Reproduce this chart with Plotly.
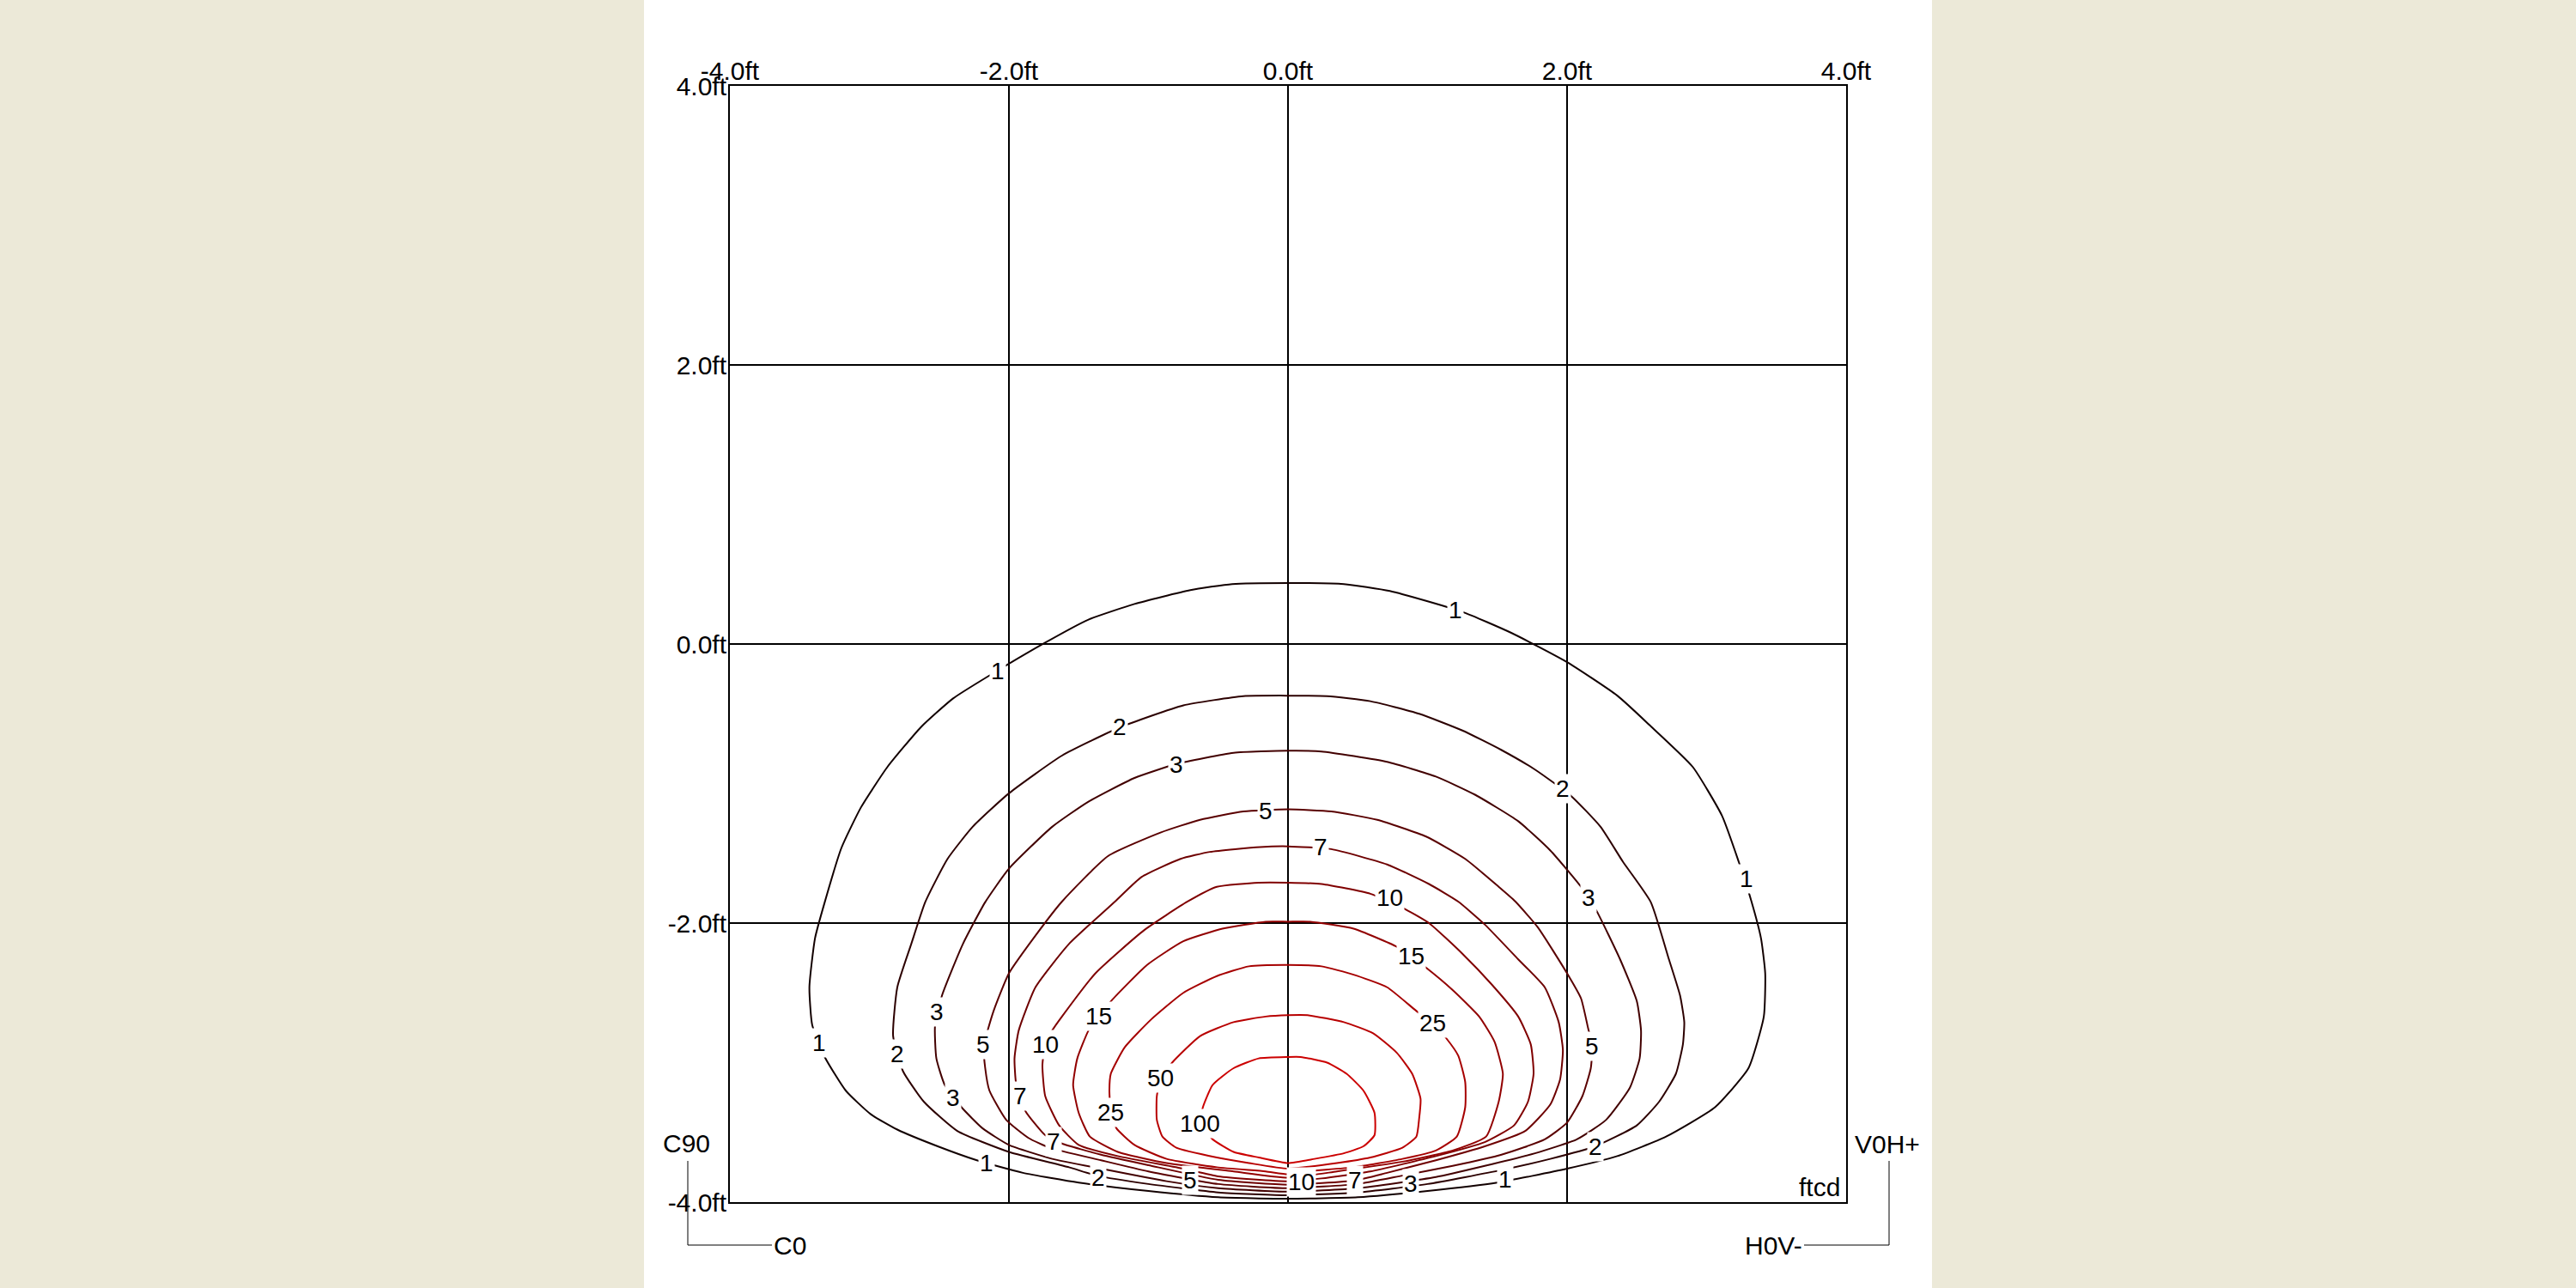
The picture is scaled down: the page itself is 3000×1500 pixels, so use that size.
import plotly.graph_objects as go

# ---------------- data (feet) ----------------
LEVELS = [1, 2, 3, 5, 7, 10, 15, 25, 50, 100]
TICK_VALS = [-4, -2, 0, 2, 4]
TICK_TEXT = ["-4.0ft", "-2.0ft", "0.0ft", "2.0ft", "4.0ft"]

C1_X = [0, -0.5, -1.0, -1.5, -1.9, -2.23, -2.51, -2.80, -2.99, -3.17, -3.32, -3.41, -3.43, -3.39, -3.32,
        -3.20, -3.06, -2.87, -2.63, -2.40, -2.14, -1.74, -1.43, -1.10, -0.70, -0.40, 0, 0.40, 0.73, 1.25,
        1.60, 2.00, 2.36, 2.59, 2.90, 3.11, 3.23, 3.32, 3.39, 3.42, 3.41, 3.30, 3.06, 2.71, 2.36, 2.00,
        1.50, 1.00, 0.50, 0]
C1_Y = [-3.975, -3.965, -3.92, -3.86, -3.79, -3.70, -3.60, -3.48, -3.37, -3.20, -2.96, -2.73, -2.46, -2.11,
        -1.85, -1.46, -1.17, -0.88, -0.595, -0.39, -0.226, 0.01, 0.175, 0.287, 0.386, 0.43, 0.437, 0.43,
        0.38, 0.23, 0.08, -0.13, -0.37, -0.58, -0.88, -1.23, -1.56, -1.84, -2.11, -2.36, -2.67, -3.04,
        -3.32, -3.53, -3.67, -3.76, -3.86, -3.92, -3.965, -3.975]

C2_X = [0, -0.5, -1.0, -1.37, -1.57, -2.0, -2.37, -2.61, -2.76, -2.83, -2.80, -2.70, -2.60, -2.44, -2.26,
        -2.0, -1.62, -1.21, -0.75, -0.32, 0, 0.28, 0.59, 0.94, 1.25, 1.53, 1.77, 2.03, 2.24, 2.40, 2.60,
        2.73, 2.81, 2.84, 2.83, 2.78, 2.66, 2.50, 2.20, 1.88, 1.53, 1.0, 0.5, 0]
C2_Y = [-3.95, -3.93, -3.87, -3.81, -3.75, -3.64, -3.49, -3.28, -3.06, -2.81, -2.46, -2.15, -1.85, -1.54,
        -1.31, -1.07, -0.80, -0.60, -0.44, -0.374, -0.37, -0.374, -0.41, -0.50, -0.62, -0.76, -0.90,
        -1.09, -1.31, -1.56, -1.85, -2.26, -2.52, -2.71, -2.87, -3.08, -3.28, -3.45, -3.60, -3.69, -3.77,
        -3.87, -3.93, -3.95]

C3_X = [0, -0.5, -0.87, -1.34, -1.69, -2.0, -2.19, -2.34, -2.46, -2.52, -2.53, -2.48, -2.33, -2.17, -2.0,
        -1.69, -1.43, -1.10, -0.80, -0.39, 0, 0.24, 0.71, 1.06, 1.34, 1.65, 1.88, 2.10, 2.21, 2.38, 2.50,
        2.53, 2.52, 2.45, 2.28, 2.07, 1.77, 1.41, 1.06, 0.5, 0]
C3_Y = [-3.925, -3.90, -3.85, -3.76, -3.69, -3.59, -3.47, -3.32, -3.16, -2.97, -2.74, -2.52, -2.15, -1.85,
        -1.61, -1.31, -1.13, -0.96, -0.86, -0.78, -0.765, -0.77, -0.845, -0.95, -1.08, -1.27, -1.48, -1.74,
        -1.91, -2.26, -2.56, -2.77, -2.97, -3.18, -3.41, -3.55, -3.65, -3.74, -3.82, -3.90, -3.925]

C5_X = [0, -0.5, -1.0, -1.34, -1.71, -1.86, -2.02, -2.14, -2.17, -2.18, -2.11, -2.0, -1.81, -1.62, -1.29,
        -0.91, -0.63, -0.32, 0, 0.31, 0.64, 0.99, 1.27, 1.51, 1.63, 1.79, 2.0, 2.10, 2.15, 2.18, 2.17, 2.11,
        2.0, 1.84, 1.53, 1.18, 0.82, 0.5, 0]
C5_Y = [-3.90, -3.87, -3.78, -3.70, -3.61, -3.54, -3.41, -3.20, -3.04, -2.88, -2.63, -2.36, -2.09, -1.846,
        -1.52, -1.35, -1.26, -1.20, -1.185, -1.20, -1.26, -1.38, -1.54, -1.74, -1.846, -2.03, -2.36, -2.54,
        -2.75, -2.88, -3.04, -3.24, -3.43, -3.55, -3.66, -3.74, -3.81, -3.87, -3.90]

C7_X = [0, -0.5, -1.0, -1.34, -1.62, -1.74, -1.88, -1.92, -1.95, -1.96, -1.93, -1.81, -1.57, -1.24, -1.05,
        -0.77, -0.56, -0.2, 0, 0.31, 0.71, 1.01, 1.22, 1.41, 1.65, 1.84, 1.94, 1.97, 1.95, 1.88, 1.70, 1.41,
        1.06, 0.71, 0.48, 0]
C7_Y = [-3.875, -3.84, -3.735, -3.66, -3.58, -3.52, -3.35, -3.24, -3.14, -2.97, -2.77, -2.46, -2.15, -1.846,
        -1.67, -1.54, -1.49, -1.455, -1.45, -1.47, -1.58, -1.72, -1.846, -2.01, -2.26, -2.46, -2.71, -2.91,
        -3.12, -3.30, -3.49, -3.60, -3.70, -3.79, -3.845, -3.875]

C10_X = [0, -0.5, -0.75, -1.22, -1.50, -1.64, -1.74, -1.76, -1.74, -1.69, -1.62, -1.38, -1.03, -0.72, -0.51,
         -0.21, 0, 0.24, 0.59, 0.82, 1.01, 1.25, 1.46, 1.65, 1.74, 1.76, 1.72, 1.62, 1.41, 1.06, 0.59, 0.24, 0]
C10_Y = [-3.85, -3.815, -3.76, -3.67, -3.59, -3.45, -3.24, -3.02, -2.87, -2.77, -2.67, -2.36, -2.05, -1.846,
         -1.74, -1.71, -1.71, -1.72, -1.79, -1.89, -2.0, -2.22, -2.44, -2.67, -2.87, -3.08, -3.28, -3.45,
         -3.57, -3.67, -3.78, -3.83, -3.85]

C15_X = [0, -0.39, -0.87, -1.22, -1.42, -1.50, -1.54, -1.51, -1.43, -1.36, -1.26, -1.01, -0.75, -0.47, -0.16,
         0, 0.16, 0.47, 0.78, 0.88, 0.99, 1.18, 1.37, 1.48, 1.54, 1.51, 1.42, 1.18, 0.82, 0.35, 0]
C15_Y = [-3.825, -3.78, -3.72, -3.64, -3.53, -3.36, -3.16, -2.97, -2.77, -2.67, -2.55, -2.30, -2.13, -2.04,
         -1.99, -1.99, -1.99, -2.04, -2.17, -2.24, -2.32, -2.48, -2.67, -2.85, -3.08, -3.28, -3.53, -3.63,
         -3.71, -3.78, -3.825]

C25_X = [0, -0.16, -0.51, -0.87, -1.10, -1.23, -1.27, -1.28, -1.27, -1.17, -0.98, -0.75, -0.51, -0.28, 0,
         0.24, 0.47, 0.71, 0.92, 1.04, 1.13, 1.22, 1.27, 1.27, 1.21, 1.06, 0.82, 0.47, 0.12, 0]
C25_Y = [-3.80, -3.78, -3.75, -3.69, -3.59, -3.47, -3.35, -3.20, -3.08, -2.89, -2.69, -2.50, -2.38, -2.31,
         -2.30, -2.31, -2.37, -2.46, -2.63, -2.72, -2.82, -2.95, -3.14, -3.32, -3.53, -3.63, -3.69, -3.75,
         -3.78, -3.80]

C50_X = [0, -0.28, -0.51, -0.80, -0.90, -0.94, -0.94, -0.91, -0.83, -0.63, -0.39, -0.16, 0, 0.14, 0.40,
         0.61, 0.78, 0.89, 0.95, 0.94, 0.92, 0.82, 0.59, 0.35, 0]
C50_Y = [-3.76, -3.72, -3.68, -3.61, -3.53, -3.41, -3.24, -3.11, -3.00, -2.81, -2.71, -2.67, -2.66, -2.66,
         -2.71, -2.79, -2.93, -3.08, -3.26, -3.40, -3.53, -3.61, -3.68, -3.72, -3.76]

C100_X = [0, -0.21, -0.39, -0.54, -0.63, -0.61, -0.54, -0.39, -0.21, 0, 0.09, 0.28, 0.42, 0.54, 0.62, 0.62,
          0.54, 0.40, 0.19, 0]
C100_Y = [-3.72, -3.68, -3.64, -3.55, -3.44, -3.32, -3.16, -3.04, -2.97, -2.96, -2.96, -3.00, -3.08, -3.20,
          -3.36, -3.52, -3.60, -3.65, -3.69, -3.72]

# contour label positions (feet)
L1_X = [-2.08, 1.20, 3.285, -3.36, -2.16, 1.554]
L1_Y = [-0.195, 0.246, -1.68, -2.86, -3.72, -3.836]
L2_X = [-1.207, 1.967, -2.80, -1.36, 2.20]
L2_Y = [-0.595, -1.036, -2.94, -3.825, -3.60]
L3_X = [-0.80, 2.155, -2.514, -2.401, 0.883]
L3_Y = [-0.862, -1.816, -2.636, -3.251, -3.867]
L5_X = [-0.159, -2.185, 2.178, -0.70]
L5_Y = [-1.194, -2.872, -2.882, -3.846]
L7_X = [0.236, -1.921, -1.678, 0.483]
L7_Y = [-1.457, -3.241, -3.569, -3.846]
L10_X = [0.73, -1.737, 0.094]
L10_Y = [-1.816, -2.872, -3.856]
L15_X = [-1.36, 0.883]
L15_Y = [-2.667, -2.236]
L25_X = [-1.271, 1.036]
L25_Y = [-3.354, -2.718]
L50_X = [-0.913]
L50_Y = [-3.108]
L100_X = [-0.63]
L100_Y = [-3.436]

CONTOURS_X = [C1_X, C2_X, C3_X, C5_X, C7_X, C10_X, C15_X, C25_X, C50_X, C100_X]
CONTOURS_Y = [C1_Y, C2_Y, C3_Y, C5_Y, C7_Y, C10_Y, C15_Y, C25_Y, C50_Y, C100_Y]
LABELS_X = [L1_X, L2_X, L3_X, L5_X, L7_X, L10_X, L15_X, L25_X, L50_X, L100_X]
LABELS_Y = [L1_Y, L2_Y, L3_Y, L5_Y, L7_Y, L10_Y, L15_Y, L25_Y, L50_Y, L100_Y]

# ---------------- styling ----------------
LINE_COLORS = ["#120000", "#2c0000", "#420000", "#5a0000", "#6e0000",
               "#800000", "#920000", "#a60000", "#b80000", "#cc0000"]
FONT = "Liberation Sans, Arial, sans-serif"

W, H = 3000, 1500
L_M, R_M, T_M, B_M = 850, 850, 100, 100
PW = W - L_M - R_M
PH = H - T_M - B_M


def px_x(px):
    return (px - L_M) / PW


def px_y(py):
    return (H - B_M - py) / PH


fig = go.Figure()

for lv, xs, ys, col in zip(LEVELS, CONTOURS_X, CONTOURS_Y, LINE_COLORS):
    fig.add_trace(go.Scatter(x=xs, y=ys, mode="lines",
                             line=dict(color=col, width=2, shape="spline", smoothing=0.5),
                             hoverinfo="skip", showlegend=False, name=str(lv)))

annotations = []
for lv, lx, ly in zip(LEVELS, LABELS_X, LABELS_Y):
    for x, y in zip(lx, ly):
        annotations.append(dict(x=x, y=y, xref="x", yref="y", text=str(lv), showarrow=False,
                                font=dict(family=FONT, size=28, color="black"),
                                bgcolor="white", borderpad=1, xanchor="center", yanchor="middle"))

corner_font = dict(family=FONT, size=30, color="black")
annotations += [
    dict(x=px_x(799), y=px_y(1331), xref="paper", yref="paper", text="C90", showarrow=False,
         font=corner_font, xanchor="center", yanchor="middle"),
    dict(x=px_x(899), y=px_y(1450), xref="paper", yref="paper", text="C0", showarrow=False,
         font=corner_font, xanchor="left", yanchor="middle"),
    dict(x=px_x(2198), y=px_y(1332), xref="paper", yref="paper", text="V0H+", showarrow=False,
         font=corner_font, xanchor="center", yanchor="middle"),
    dict(x=px_x(2101), y=px_y(1450), xref="paper", yref="paper", text="H0V-", showarrow=False,
         font=corner_font, xanchor="right", yanchor="middle"),
    dict(x=px_x(2145), y=px_y(1382), xref="paper", yref="paper", text="ftcd", showarrow=False,
         font=corner_font, xanchor="right", yanchor="middle"),
]

shapes = [
    dict(type="rect", xref="paper", yref="paper", x0=px_x(750), x1=px_x(2250), y0=px_y(1500), y1=px_y(0),
         fillcolor="white", line=dict(width=0), layer="below"),
    dict(type="line", xref="paper", yref="paper", x0=px_x(801), x1=px_x(801), y0=px_y(1352), y1=px_y(1450),
         line=dict(color="black", width=1)),
    dict(type="line", xref="paper", yref="paper", x0=px_x(801), x1=px_x(899), y0=px_y(1450), y1=px_y(1450),
         line=dict(color="black", width=1)),
    dict(type="line", xref="paper", yref="paper", x0=px_x(2200), x1=px_x(2200), y0=px_y(1352), y1=px_y(1450),
         line=dict(color="black", width=1)),
    dict(type="line", xref="paper", yref="paper", x0=px_x(2101), x1=px_x(2200), y0=px_y(1450), y1=px_y(1450),
         line=dict(color="black", width=1)),
]

axis_common = dict(range=[-4, 4], tickvals=TICK_VALS, ticktext=TICK_TEXT, showgrid=True,
                   gridcolor="black", gridwidth=2, zeroline=False, showline=True, mirror=True,
                   linecolor="black", linewidth=2, ticks="", tickfont=dict(family=FONT, size=30, color="black"),
                   fixedrange=True)

fig.update_layout(
    width=W, height=H, autosize=False,
    margin=dict(l=L_M, r=R_M, t=T_M, b=B_M, pad=0),
    paper_bgcolor="#ECE9D8", plot_bgcolor="white",
    xaxis=dict(side="top", ticklabelstandoff=-7, **axis_common),
    yaxis=dict(ticklabelstandoff=-4, **axis_common),
    annotations=annotations, shapes=shapes,
    showlegend=False,
)

fig.write_html(
    "out.html",
    config={"displayModeBar": False, "staticPlot": True},
    post_script="document.body.style.margin='0';document.body.style.padding='0';"
                "document.body.style.background='#ECE9D8';document.body.style.overflow='hidden';",
)
